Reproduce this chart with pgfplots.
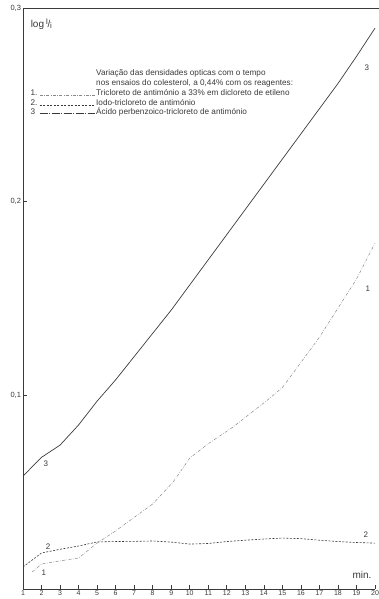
\documentclass[border=0pt]{standalone}
\usepackage{pgfplots}
\pgfplotsset{compat=1.18}
\usepackage{fontspec}
\setmainfont{Liberation Sans}
\definecolor{ink}{HTML}{3A3A3A}
\definecolor{inkl}{HTML}{8A8A8A}
\begin{document}
\begin{tikzpicture}[x=1pt,y=1pt]
\path[use as bounding box] (-23pt,-10pt) rectangle (356pt,589pt);
\begin{axis}[
  at={(0,0)}, anchor=south west,
  scale only axis, width=352pt, height=581pt,
  xmin=1, xmax=20, ymin=0, ymax=0.3,
  axis x line=bottom, axis y line=left,
  axis line style={ink, line width=0.9pt, -},
  xtick={1,...,20}, ytick={0.1,0.2,0.3},
  yticklabels={{0,1},{0,2},{0,3}},
  tick style={ink, line width=0.6pt},
  major tick length=4pt,
  tick align=inside,
  xticklabel style={font=\fontsize{7}{8}\selectfont, text=ink, yshift=1.5pt},
  yticklabel style={font=\fontsize{7.5}{8}\selectfont, text=ink, xshift=1.5pt},
  /pgf/number format/assume math mode=true,
  clip=false,
]
\draw[ink, line width=0.8pt] (rel axis cs:0,1) -- (rel axis cs:1.01,1);
% series 3
\addplot[ink, line width=0.7pt] coordinates {
(1,0.0583) (2,0.068) (3,0.0743) (4,0.0847) (5,0.097) (6,0.108) (7,0.120)
(8,0.132) (9,0.144) (10,0.157) (11,0.170) (12,0.183) (13,0.196) (14,0.209)
(15,0.222) (16,0.235) (17,0.248) (18,0.261) (19,0.275) (20,0.2896)};
% series 1
\addplot[inkl, line width=0.5pt, dash pattern=on 3pt off 1.5pt on 0.6pt off 1.5pt] coordinates {
(1.5,0.0088) (2,0.0129) (3,0.0145) (4,0.016) (5,0.0237) (6,0.030) (7,0.037)
(8,0.0439) (9.1,0.0552) (10,0.0676) (11,0.075) (12.33,0.0836) (14.2,0.0976)
(15,0.104) (16,0.117) (17,0.130) (18,0.145) (19,0.160) (20,0.1786)};
% series 2
\addplot[ink, line width=0.6pt, dash pattern=on 2pt off 1.5pt] coordinates {
(1,0.0114) (2,0.0186) (3,0.0205) (4,0.0222) (5,0.0243) (6,0.0245) (7,0.0246) (8,0.0248)
(9,0.0242) (10,0.0232) (11,0.0235) (12,0.0245) (13,0.0252) (14,0.0258) (15,0.0263)
(16,0.026) (17,0.0252) (18,0.0245) (19,0.024) (20,0.0237)};
% curve labels
\node[text=ink, font=\fontsize{8}{9}\selectfont] at (axis cs:2.13,0.0083) {1};
\node[text=ink, font=\fontsize{8}{9}\selectfont] at (axis cs:2.35,0.0217) {2};
\node[text=ink, font=\fontsize{8}{9}\selectfont] at (axis cs:2.24,0.0645) {3};
\node[text=ink, font=\fontsize{8}{9}\selectfont] at (axis cs:19.62,0.155) {1};
\node[text=ink, font=\fontsize{8}{9}\selectfont] at (axis cs:19.5,0.0279) {2};
\node[text=ink, font=\fontsize{8}{9}\selectfont] at (axis cs:19.56,0.269) {3};
% axis labels
\node[text=ink, anchor=west, font=\fontsize{10}{11}\selectfont] at (rel axis cs:0.012,0.972) {log\,\raisebox{3pt}{\fontsize{8}{8}\selectfont I}\kern-0.3pt/\kern-0.3pt\raisebox{-1pt}{\fontsize{8}{8}\selectfont i}};
\node[text=ink, font=\fontsize{10}{11}\selectfont] at (axis cs:19.3,0.0072) {min.};
% annotation
\begin{scope}[font=\fontsize{8.2}{9}\selectfont, text=ink]
\node[anchor=base west, inner sep=0] at (axis cs:4.94,0.2653) {Variação das densidades opticas com o tempo};
\node[anchor=base west, inner sep=0] at (axis cs:4.94,0.2602) {nos ensaios do colesterol, a 0,44\% com os reagentes:};
\node[anchor=base west, inner sep=0] at (axis cs:4.94,0.2550) {Tricloreto de antimónio a 33\% em dicloreto de etileno};
\node[anchor=base west, inner sep=0] at (axis cs:4.94,0.2498) {Iodo-tricloreto de antimónio};
\node[anchor=base west, inner sep=0] at (axis cs:4.94,0.2452) {Ácido perbenzoico-tricloreto de antimónio};
\node[anchor=base west, inner sep=0] at (axis cs:1.4,0.2550) {1.};
\node[anchor=base west, inner sep=0] at (axis cs:1.4,0.2498) {2.};
\node[anchor=base west, inner sep=0] at (axis cs:1.4,0.2452) {3};
\end{scope}
\draw[inkl, line width=0.5pt, dash pattern=on 3pt off 1.5pt on 0.6pt off 1.5pt] (axis cs:1.9,0.2552) -- (axis cs:4.9,0.2552);
\draw[ink, line width=0.6pt, dash pattern=on 2pt off 1.5pt] (axis cs:1.9,0.2500) -- (axis cs:4.9,0.2500);
\draw[ink, line width=0.6pt, dash pattern=on 8pt off 1.5pt on 1pt off 1.5pt] (axis cs:1.9,0.2454) -- (axis cs:4.9,0.2454);
\end{axis}
\end{tikzpicture}
\end{document}
